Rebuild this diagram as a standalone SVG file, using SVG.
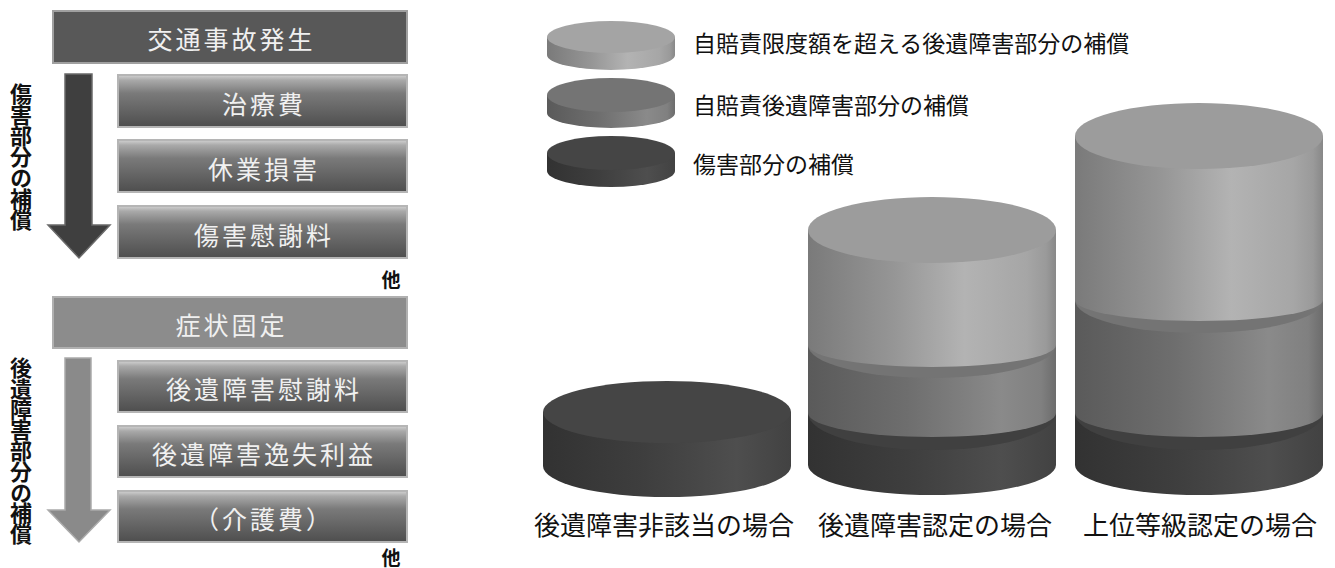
<svg xmlns="http://www.w3.org/2000/svg" width="1335" height="568" viewBox="0 0 1335 568">
<defs>
<linearGradient id="gItem" x1="0" y1="0" x2="0" y2="1">
<stop offset="0" stop-color="#d2d2d2"/>
<stop offset="0.1" stop-color="#a9a9a9"/>
<stop offset="0.35" stop-color="#7a7a7a"/>
<stop offset="1" stop-color="#4e4e4e"/>
</linearGradient>
<linearGradient id="gLightSide" x1="0" y1="0" x2="1" y2="0">
<stop offset="0" stop-color="#7a7a7a"/>
<stop offset="0.35" stop-color="#969696"/>
<stop offset="0.63" stop-color="#b3b3b3"/>
<stop offset="0.88" stop-color="#a6a6a6"/>
<stop offset="0.96" stop-color="#9a9a9a"/>
<stop offset="1" stop-color="#888888"/>
</linearGradient>
<linearGradient id="gMedSide" x1="0" y1="0" x2="1" y2="0">
<stop offset="0" stop-color="#5a5a5a"/>
<stop offset="0.4" stop-color="#6e6e6e"/>
<stop offset="0.78" stop-color="#8a8a8a"/>
<stop offset="0.94" stop-color="#808080"/>
<stop offset="1" stop-color="#6c6c6c"/>
</linearGradient>
<linearGradient id="gDarkSide" x1="0" y1="0" x2="1" y2="0">
<stop offset="0" stop-color="#323232"/>
<stop offset="0.4" stop-color="#3e3e3e"/>
<stop offset="0.78" stop-color="#4e4e4e"/>
<stop offset="1" stop-color="#424242"/>
</linearGradient>
<style>
.hdr{fill:#585858;stroke:#a0a0a0;stroke-width:2}
.hdr2{fill:#8c8c8c;stroke:#b0b0b0;stroke-width:2}
.item{fill:url(#gItem);stroke:#b5b5b5;stroke-width:2}
.bt{font-family:"Noto Sans CJK JP","Noto Sans CJK SC",sans-serif;font-size:25px;fill:#f0f0f0;text-anchor:middle;letter-spacing:3px}
.vt{font-family:"Noto Sans CJK JP","Noto Sans CJK SC",sans-serif;font-size:22px;font-weight:700;fill:#111;writing-mode:vertical-rl}
.ta{font-family:"Noto Sans CJK JP","Noto Sans CJK SC",sans-serif;font-size:19px;font-weight:700;fill:#111;text-anchor:middle}
.lg{font-family:"Noto Sans CJK JP","Noto Sans CJK SC",sans-serif;font-size:23px;fill:#111}
.cl{font-family:"Noto Sans CJK JP","Noto Sans CJK SC",sans-serif;font-size:26px;fill:#111;text-anchor:middle}
.lside{fill:url(#gLightSide)}
.mside{fill:url(#gMedSide)}
.dside{fill:url(#gDarkSide)}
.ltop{fill:#9c9c9c}
.lgtop{fill:#a4a4a4}
.mtop{fill:#747474}
.dtop{fill:#454545}
.dstrip{fill:#404040}
</style>
</defs>
<rect width="1335" height="568" fill="#ffffff"/>

<g id="connectors">
<polygon points="65,74 92,74 92,225 110,225 79,258 48,225 65,225" fill="#3f3f3f" stroke="#6a6a6a" stroke-width="1.5"/>
<polygon points="65,358 91,358 91,510 110,510 79,542 48,510 65,510" fill="#8a8a8a" stroke="#ababab" stroke-width="1.5"/>
</g>

<g id="label-injury">
<text class="vt" x="21" y="83" letter-spacing="-1">傷害部分の補償</text>
</g>
<g id="label-after">
<text class="vt" x="21" y="357" letter-spacing="-1.3">後遺障害部分の補償</text>
</g>

<g id="node-accident">
<rect class="hdr" x="53" y="11" width="354" height="52"/>
<text class="bt" x="231.5" y="49">交通事故発生</text>
</g>
<g id="node-treatment">
<rect class="item" x="118" y="75" width="289" height="52"/>
<text class="bt" x="264" y="114">治療費</text>
</g>
<g id="node-leave">
<rect class="item" x="118" y="140" width="289" height="52"/>
<text class="bt" x="264" y="179">休業損害</text>
</g>
<g id="node-injury-solatium">
<rect class="item" x="118" y="206" width="289" height="52"/>
<text class="bt" x="264" y="245">傷害慰謝料</text>
</g>
<g id="note-other1">
<text class="ta" x="391" y="287">他</text>
</g>

<g id="node-fixed">
<rect class="hdr2" x="53" y="297" width="354" height="51"/>
<text class="bt" x="231.5" y="335">症状固定</text>
</g>
<g id="node-after-solatium">
<rect class="item" x="118" y="361" width="289" height="51"/>
<text class="bt" x="264" y="399">後遺障害慰謝料</text>
</g>
<g id="node-lost-profit">
<rect class="item" x="118" y="426" width="289" height="51"/>
<text class="bt" x="264" y="464">後遺障害逸失利益</text>
</g>
<g id="node-care">
<rect class="item" x="118" y="491" width="289" height="51"/>
<text class="bt" x="264" y="529">（介護費）</text>
</g>
<g id="note-other2">
<text class="ta" x="391" y="565">他</text>
</g>

<g id="legend-excess">
<path class="lside" d="M547,37 L547,55 A64,15 0 0 0 675,55 L675,37 Z"/>
<ellipse class="lgtop" cx="611" cy="37" rx="64" ry="16"/>
<text class="lg" x="693" y="52">自賠責限度額を超える後遺障害部分の補償</text>
</g>
<g id="legend-jibaiseki">
<path class="mside" d="M547,95 L547,113 A64,15 0 0 0 675,113 L675,95 Z"/>
<ellipse class="mtop" cx="611" cy="95" rx="64" ry="17"/>
<text class="lg" x="693" y="114">自賠責後遺障害部分の補償</text>
</g>
<g id="legend-injury">
<path class="dside" d="M547,153 L547,171 A64,16 0 0 0 675,171 L675,153 Z"/>
<ellipse class="dtop" cx="611" cy="153" rx="64" ry="17"/>
<text class="lg" x="693" y="173">傷害部分の補償</text>
</g>

<g id="cyl-none">
<path class="dside" d="M543,412 L543,466 A124,31 0 0 0 791,466 L791,412 Z"/>
<ellipse class="dtop" cx="667" cy="412" rx="124" ry="31"/>
<text class="cl" x="664" y="535">後遺障害非該当の場合</text>
</g>

<g id="cyl-certified">
<path class="dside" d="M808,413 L808,465 A124,30 0 0 0 1056,465 L1056,413 Z"/>
<ellipse class="dstrip" cx="932" cy="413" rx="124" ry="37"/>
<path class="mside" d="M808,345 L808,413 A124,24 0 0 0 1056,413 L1056,345 Z"/>
<ellipse class="mtop" cx="932" cy="345" rx="124" ry="33"/>
<path class="lside" d="M808,230 L808,345 A124,22 0 0 0 1056,345 L1056,230 Z"/>
<ellipse class="ltop" cx="932" cy="230" rx="124" ry="33"/>
<text class="cl" x="935" y="535">後遺障害認定の場合</text>
</g>

<g id="cyl-higher">
<path class="dside" d="M1075,413 L1075,465 A124,30 0 0 0 1323,465 L1323,413 Z"/>
<ellipse class="dstrip" cx="1199" cy="413" rx="124" ry="37"/>
<path class="mside" d="M1075,300 L1075,413 A124,24 0 0 0 1323,413 L1323,300 Z"/>
<ellipse class="mtop" cx="1199" cy="300" rx="124" ry="33"/>
<path class="lside" d="M1075,136 L1075,300 A124,21 0 0 0 1323,300 L1323,136 Z"/>
<ellipse class="ltop" cx="1199" cy="136" rx="124" ry="33"/>
<text class="cl" x="1200" y="535">上位等級認定の場合</text>
</g>
</svg>
